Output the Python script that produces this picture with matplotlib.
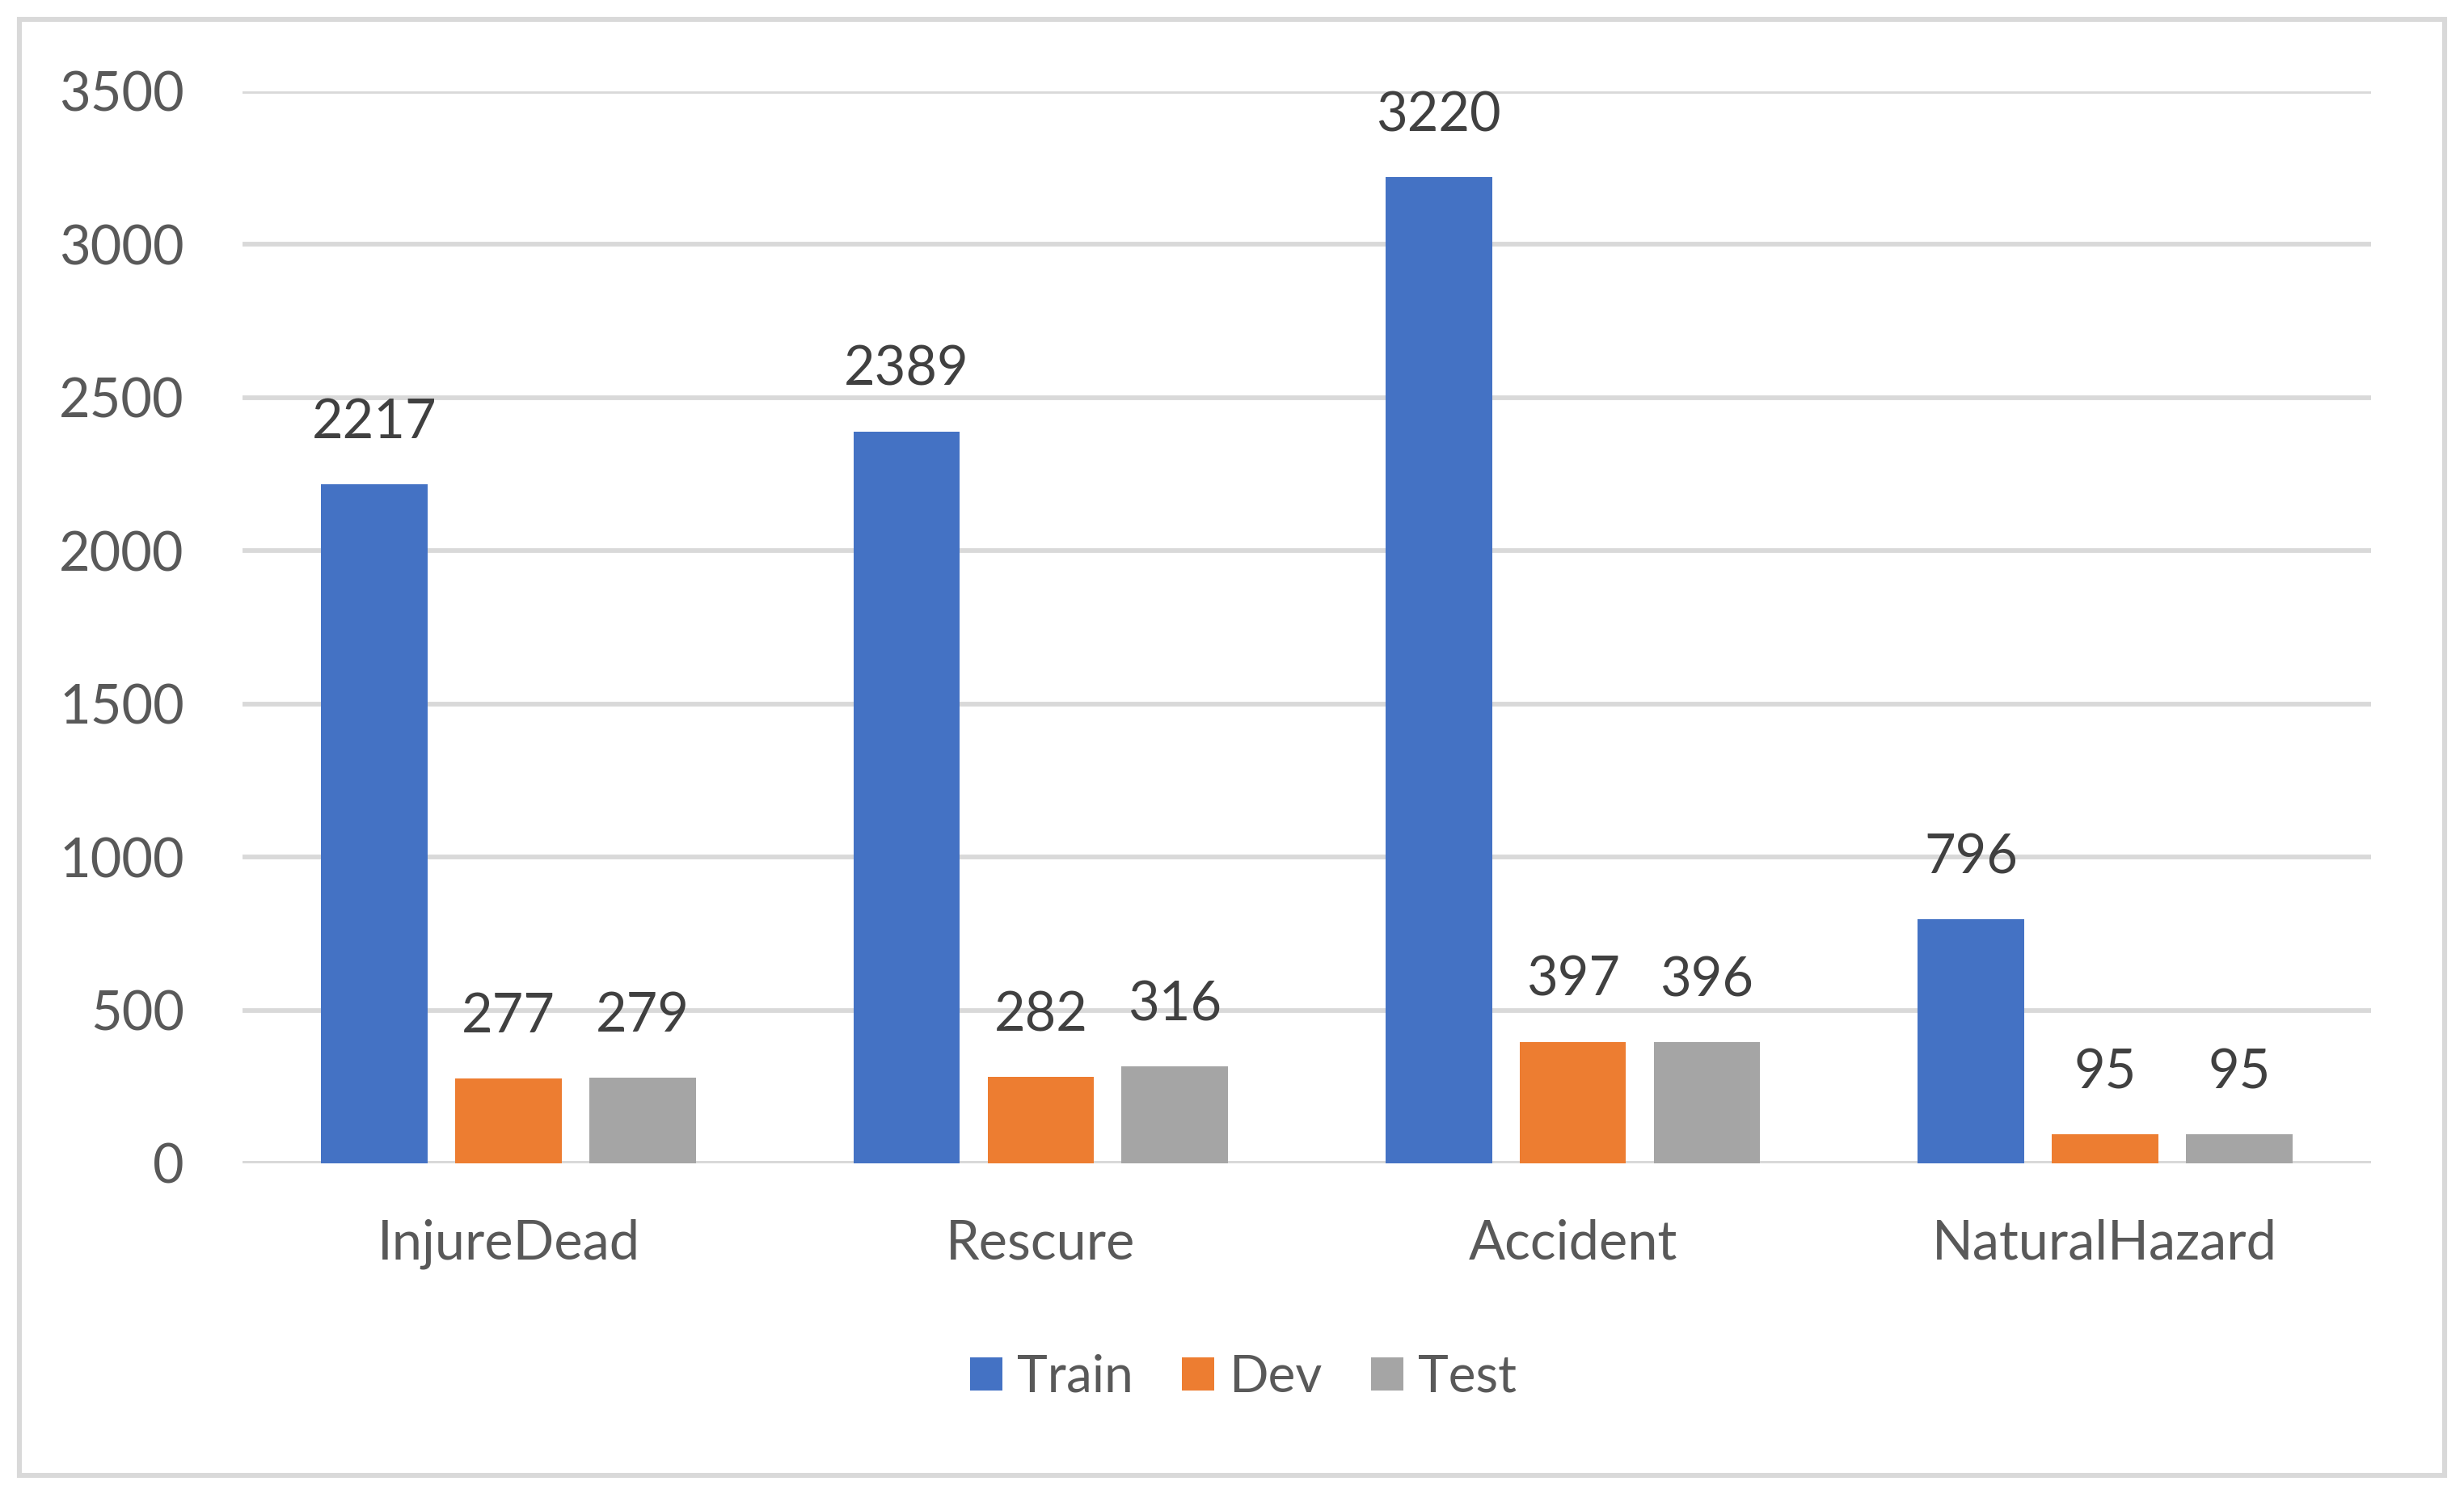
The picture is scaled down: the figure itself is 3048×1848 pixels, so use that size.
import matplotlib.pyplot as plt
import numpy as np
from matplotlib.patches import Rectangle

# Data
categories = ["InjureDead", "Rescure", "Accident", "NaturalHazard"]
series_names = ["Train", "Dev", "Test"]
train = [2217, 2389, 3220, 796]
dev = [277, 282, 397, 95]
test = [279, 316, 396, 95]
y_ticks = [0, 500, 1000, 1500, 2000, 2500, 3000, 3500]

COLORS = ["#4472C4", "#ED7D31", "#A5A5A5"]
GRID = "#D9D9D9"
TICK_COLOR = "#595959"
LABEL_COLOR = "#404040"

plt.rcParams['font.family'] = ['Lato', 'DejaVu Sans']

DPI = 200
fig = plt.figure(figsize=(3048 / DPI, 1848 / DPI), dpi=DPI)
ax = fig.add_axes([300 / 3048, 1 - 1439 / 1848, 2633 / 3048, 1326 / 1848])

x = np.arange(len(categories))
width = 0.2
step = 0.252

for i, (name, vals) in enumerate(zip(series_names, [train, dev, test])):
    bars = ax.bar(x + (i - 1) * step, vals, width, color=COLORS[i], label=name, zorder=3)
    for b, v in zip(bars, vals):
        ax.annotate(str(v), (b.get_x() + b.get_width() / 2, v),
                    xytext=(0, 20.5), textcoords='offset points',
                    ha='center', va='baseline', fontsize=24, color=LABEL_COLOR)

ax.set_xlim(-0.5, len(categories) - 0.5)
ax.set_ylim(0, 3500)
ax.set_yticks(y_ticks)
ax.set_xticks(x, categories)
ax.yaxis.grid(True, color=GRID, linewidth=2.1, zorder=0)
ax.axhline(0, color=GRID, linewidth=2.4, zorder=2)
ax.set_axisbelow(True)
for s in ax.spines.values():
    s.set_visible(False)

ax.tick_params(axis='y', length=0, pad=26, labelsize=24, labelcolor=TICK_COLOR)
ax.tick_params(axis='x', length=0, pad=42.8, labelsize=24, labelcolor=TICK_COLOR)
for lab in ax.get_xticklabels():
    lab.set_va('baseline')

leg = fig.legend(loc='center', bbox_to_anchor=(1538 / 3048, 1 - 1704 / 1848), ncol=3,
                 frameon=False, fontsize=23, handlelength=0.62, handleheight=0.62,
                 handletextpad=0.28, columnspacing=0.95, borderaxespad=0)
for t in leg.get_texts():
    t.set_color(TICK_COLOR)

# Outer chart border
fig.patches.append(Rectangle((24 / 3048, 23 / 1848), 3000 / 3048, 1801 / 1848,
                             transform=fig.transFigure, fill=False,
                             edgecolor=GRID, linewidth=2.2))

fig.savefig("out.png", dpi=DPI, facecolor="white")
